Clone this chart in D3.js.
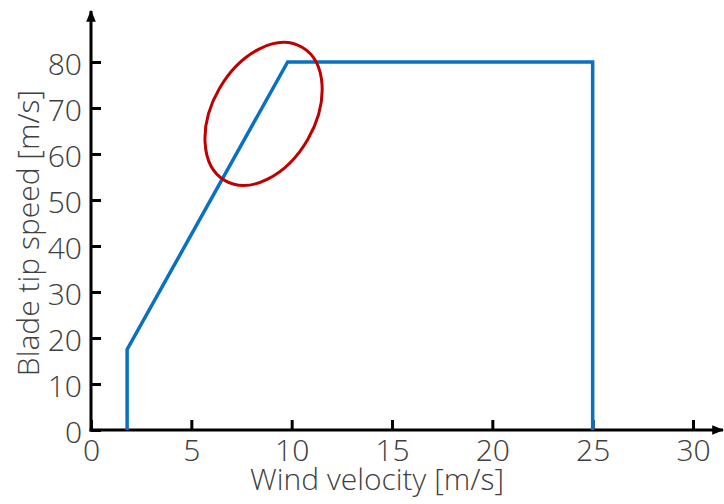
<!DOCTYPE html>
<html>
<head>
<meta charset="utf-8">
<script src="https://cdn.jsdelivr.net/npm/d3@7"></script>
<style>
  body { margin: 0; background: #fff; }
  text { font-family: "Open Sans Light", "Open Sans", sans-serif; font-weight: 300; fill: #404040; }
</style>
</head>
<body>
<svg id="chart" width="724" height="504"></svg>
<script>
// wind speed [m/s] vs blade tip speed [m/s]
var windSpeed = [1.8, 1.8, 9.8, 25, 25];
var tipSpeed  = [0, 17.5, 80, 80, 0];
var xTicks = [0, 5, 10, 15, 20, 25, 30];
var yTicks = [0, 10, 20, 30, 40, 50, 60, 70, 80];
// highlighted region (centre in data units)
var markCentre = [8.6, 68.7];

var svg = d3.select('#chart');
var x = d3.scaleLinear().domain([0, 30]).range([91, 693]);
var y = d3.scaleLinear().domain([0, 80]).range([430, 62]);

var defs = svg.append('defs');
defs.append('marker')
    .attr('id', 'arrow')
    .attr('viewBox', '0 0 10 10')
    .attr('refX', 9).attr('refY', 5)
    .attr('markerWidth', 4).attr('markerHeight', 4)
    .attr('markerUnits', 'strokeWidth')
    .attr('orient', 'auto')
  .append('path')
    .attr('d', 'M0,1 L10,5 L0,9 z')
    .attr('fill', '#000');

// ticks point inward
var xAxis = d3.axisBottom(x).tickValues(xTicks).tickSizeInner(-10).tickSizeOuter(0).tickPadding(10);
var yAxis = d3.axisLeft(y).tickValues(yTicks).tickSizeInner(-10).tickSizeOuter(0).tickPadding(9);

var gx = svg.append('g').attr('transform', 'translate(0,' + y(0) + ')').call(xAxis);
var gy = svg.append('g').attr('transform', 'translate(' + x(0) + ',0)').call(yAxis);
[gx, gy].forEach(function(g) {
    g.select('.domain').remove();
    g.selectAll('.tick line').attr('stroke', '#000').attr('stroke-width', 3);
    g.selectAll('.tick text').style('font-size', '30px');
});
gx.selectAll('.tick text').attr('dy', '0.71em');
gy.selectAll('.tick text').attr('dy', '0.42em');

// axis lines with arrows
svg.append('line')
    .attr('x1', x(0) - 1.5).attr('y1', y(0))
    .attr('x2', 723).attr('y2', y(0))
    .attr('stroke', '#000').attr('stroke-width', 3)
    .attr('marker-end', 'url(#arrow)');
svg.append('line')
    .attr('x1', x(0)).attr('y1', y(0) + 1.5)
    .attr('x2', x(0)).attr('y2', 11)
    .attr('stroke', '#000').attr('stroke-width', 3)
    .attr('marker-end', 'url(#arrow)');

var pts = d3.zip(windSpeed, tipSpeed);
svg.append('path')
    .datum(pts)
    .attr('d', d3.line().x(function(d) { return x(d[0]); }).y(function(d) { return y(d[1]); }))
    .attr('fill', 'none')
    .attr('stroke', '#0a70c2')
    .attr('stroke-width', 3.5)
    .attr('stroke-linejoin', 'miter');

var cx = x(markCentre[0]), cy = y(markCentre[1]);
svg.append('ellipse')
    .attr('cx', cx).attr('cy', cy)
    .attr('rx', 77).attr('ry', 51)
    .attr('transform', 'rotate(-60,' + cx + ',' + cy + ')')
    .attr('fill', 'none')
    .attr('stroke', '#c00000')
    .attr('stroke-width', 3);

svg.append('text')
    .attr('x', 377).attr('y', 490)
    .attr('text-anchor', 'middle')
    .style('font-size', '30px')
    .text('Wind velocity [m/s]');
svg.append('text')
    .attr('transform', 'translate(39,233) rotate(-90)')
    .attr('text-anchor', 'middle')
    .style('font-size', '30px')
    .text('Blade tip speed [m/s]');
</script>
</body>
</html>
